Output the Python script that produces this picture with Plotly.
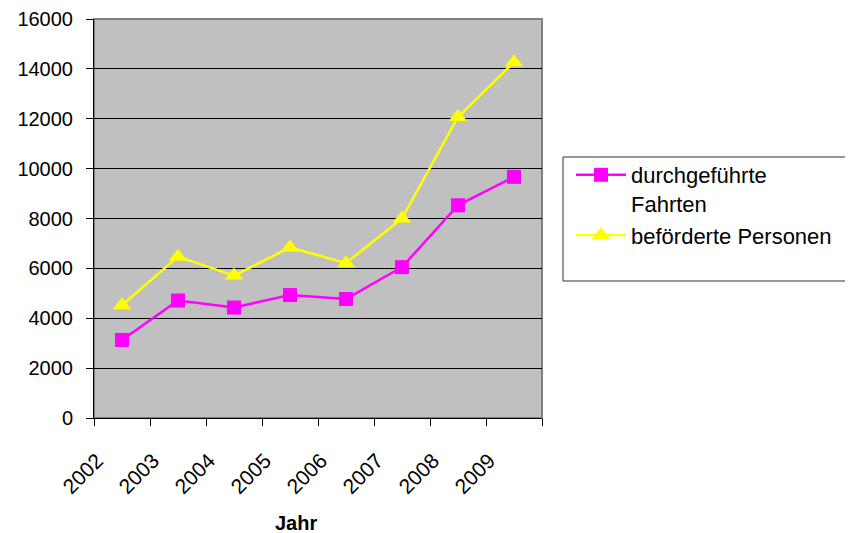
import plotly.graph_objects as go

years = ["2002", "2003", "2004", "2005", "2006", "2007", "2008", "2009"]
fahrten = [3130, 4710, 4430, 4930, 4770, 6050, 8530, 9670]
personen = [4520, 6470, 5710, 6840, 6210, 8000, 12070, 14270]
y_ticks = [0, 2000, 4000, 6000, 8000, 10000, 12000, 14000, 16000]
y_labels = [str(v) for v in y_ticks]

FONT = "Liberation Sans, Arial, sans-serif"
OFF = 8  # page body margin offset

fig = go.Figure()
fig.add_trace(go.Scatter(
    x=years, y=fahrten, name="durchgeführte<br>Fahrten", mode="lines+markers",
    line=dict(color="#FF00FF", width=2.5),
    marker=dict(symbol="square", size=14, color="#FF00FF"),
))
fig.add_trace(go.Scatter(
    x=years, y=personen, name="beförderte Personen", mode="lines+markers",
    line=dict(color="#FFFF00", width=2.5),
    marker=dict(symbol="triangle-up", size=16, color="#FFFF00"),
))

W, H = 853 - OFF, 533 - OFF
PL, PR, PT, PB = 94, 542, 19, 418  # plot area in screen px
L, R, T, B = PL - OFF, W - (PR - OFF), PT - OFF, H - (PB - OFF)
pw, ph = PR - PL, PB - PT

def px_x(x):
    return (x - PL) / pw

def px_y(y):
    return (PB - y) / ph

fig.update_layout(
    width=W, height=H,
    margin=dict(l=L, r=R, t=T, b=B, pad=0, autoexpand=False),
    paper_bgcolor="white", plot_bgcolor="#C0C0C0",
    font=dict(family=FONT, size=20, color="black"),
    showlegend=True,
    legend=dict(
        x=px_x(571), y=px_y(154), xanchor="left", yanchor="top",
        bgcolor="rgba(0,0,0,0)", borderwidth=0,
        font=dict(size=22, family=FONT), valign="top",
        tracegroupgap=0, itemwidth=50,
    ),
    shapes=[
        dict(type="rect", xref="paper", yref="paper", x0=0, x1=1, y0=0, y1=1,
             line=dict(color="#808080", width=2), layer="below"),
        dict(type="rect", xref="paper", yref="paper",
             x0=px_x(563), x1=px_x(852), y0=px_y(281), y1=px_y(157),
             line=dict(color="#333333", width=1)),
    ],
    annotations=[
        dict(text="<b>Jahr</b>", xref="paper", yref="paper",
             x=px_x(296), y=px_y(523), xanchor="center", yanchor="middle",
             showarrow=False, font=dict(size=20, family=FONT)),
    ],
)
fig.update_xaxes(
    type="category", tickson="boundaries", ticks="outside", ticklen=7,
    tickcolor="black", showline=True, linecolor="black", linewidth=1,
    tickangle=-45, showgrid=False, range=[-0.5, 7.5], automargin=False,
    tickfont=dict(size=21),
    ticklabelshift=-25, ticklabelstandoff=21,
)
fig.update_yaxes(
    range=[0, 16000], tickvals=y_ticks, ticktext=y_labels, ticks="outside", ticklen=7,
    tickcolor="black", showline=True, linecolor="black", linewidth=1,
    showgrid=True, gridcolor="black", gridwidth=1, zeroline=False,
    ticklabelstandoff=9, automargin=False,
)

fig.write_html("out.html")
